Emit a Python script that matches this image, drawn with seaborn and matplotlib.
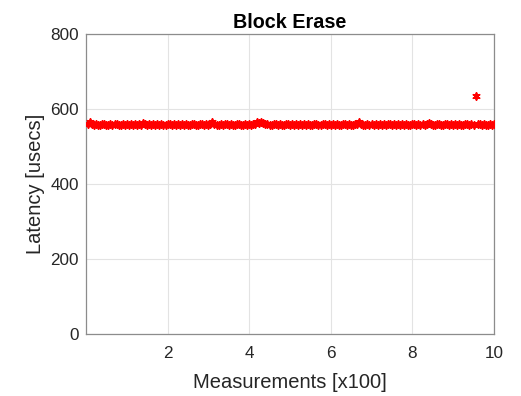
import matplotlib
matplotlib.use("Agg")
import matplotlib.pyplot as plt
import seaborn as sns
import pandas as pd
import numpy as np

title = "Block Erase"
x_label = "Measurements [x100]"
y_label = "Latency [usecs]"
x_ticks = [2, 4, 6, 8, 10]
y_ticks = [0, 200, 400, 600, 800]

latency = [
    560, 564, 559, 558, 561, 557, 558, 560, 559, 558, 557, 561, 558, 559, 560, 558, 557, 559, 558, 560,
    558, 559, 557, 560, 558, 559, 558, 563, 559, 558, 560, 557, 559, 558, 561, 558, 559, 557, 558, 560,
    559, 558, 560, 557, 559, 558, 561, 558, 559, 557, 558, 560, 559, 558, 557, 559, 560, 558, 559, 558,
    560, 564, 559, 558, 557, 559, 558, 560, 559, 558, 561, 557, 558, 559, 560, 558, 557, 559, 558, 560,
    558, 559, 561, 565, 562, 566, 563, 561, 559, 558, 557, 559, 560, 558, 559, 557, 558, 560, 559, 558,
    559, 558, 560, 557, 559, 558, 561, 558, 559, 557, 558, 560, 559, 558, 557, 559, 560, 558, 559, 558,
    560, 558, 559, 557, 558, 560, 559, 558, 561, 557, 558, 559, 560, 564, 559, 558, 557, 559, 558, 560,
    558, 559, 557, 560, 558, 559, 558, 561, 559, 558, 560, 557, 559, 558, 561, 558, 559, 557, 558, 560,
    559, 558, 560, 557, 559, 558, 561, 563, 559, 557, 558, 560, 559, 558, 557, 559, 560, 558, 559, 558,
    560, 558, 559, 557, 558, 560, 559, 558, 561, 557, 635, 559, 560, 558, 559, 558, 557, 559, 558, 560,
]
measurement = [(i + 1) * 0.05 for i in range(len(latency))]

df = pd.DataFrame({"Measurement": measurement, "Latency": latency})

sns.set_style("white")
plt.rcParams["font.family"] = ["Liberation Sans", "DejaVu Sans"]

fig = plt.figure(figsize=(5.21, 3.96), dpi=100)
ax = fig.add_axes([0.165, 0.1566, 0.783, 0.7576])

sns.scatterplot(data=df, x="Measurement", y="Latency", ax=ax,
                marker=(6, 2, 0), color="red", s=24, linewidth=1.3,
                edgecolor="red", legend=False, zorder=3)

ax.set_xlim(0, 10)
ax.set_ylim(0, 800)
ax.set_xticks(x_ticks)
ax.set_yticks(y_ticks)
ax.grid(True, color="#e3e3e3", linewidth=0.8, zorder=0)
ax.set_axisbelow(True)
for sp in ax.spines.values():
    sp.set_color("#8c8c8c")
    sp.set_linewidth(0.9)
    sp.set_visible(True)
ax.tick_params(direction="in", length=4, width=0.8, color="#8c8c8c",
               labelsize=12.3, labelcolor="#262626", top=False, right=False)
ax.tick_params(axis="x", pad=9)
ax.tick_params(axis="y", pad=5)
ax.set_xlabel(x_label, fontsize=14.5, color="#262626", labelpad=8)
ax.set_ylabel(y_label, fontsize=14.5, color="#262626", labelpad=4)
ax.set_title(title, fontsize=14.2, fontweight="bold", color="black", pad=4)

fig.savefig("out.png", dpi=100)
